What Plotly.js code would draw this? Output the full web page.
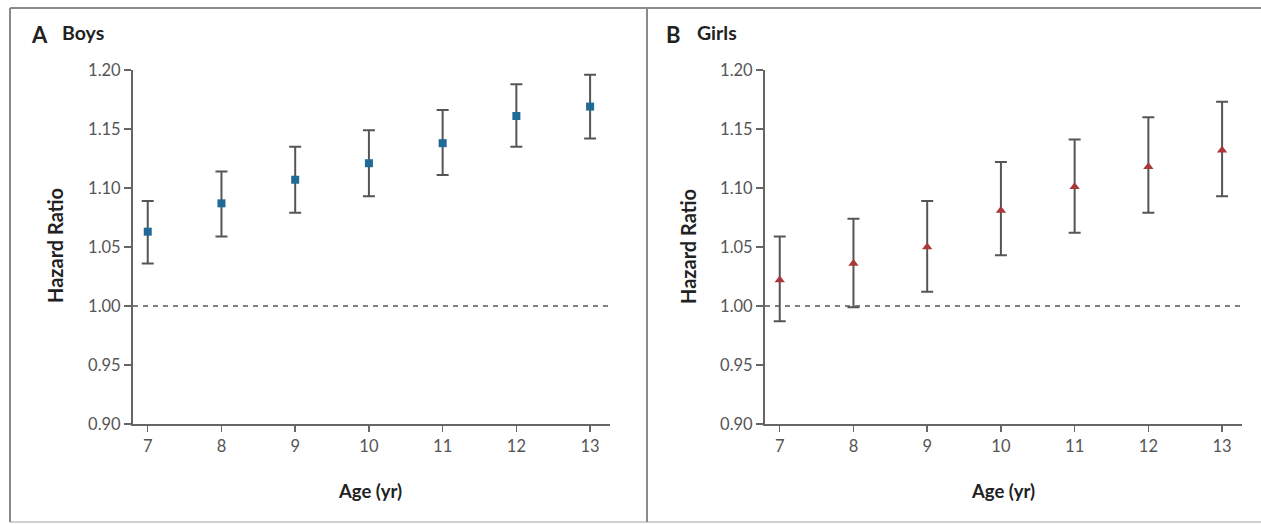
<!DOCTYPE html>
<html>
<head>
<meta charset="utf-8">
<script src="https://cdn.plot.ly/plotly-3.0.1.min.js"></script>
<style>
  html, body { margin: 0; padding: 0; background: #fff; }
  #chart { width: 1261px; height: 524px; }
</style>
</head>
<body>
<div id="chart"></div>
<script>
// Data
const ages = [7, 8, 9, 10, 11, 12, 13];
const boysHR    = [1.063, 1.087, 1.107, 1.121, 1.138, 1.161, 1.169];
const boysUpper = [1.089, 1.114, 1.135, 1.149, 1.166, 1.188, 1.196];
const boysLower = [1.036, 1.059, 1.079, 1.093, 1.111, 1.135, 1.142];
const girlsHR    = [1.022, 1.036, 1.050, 1.081, 1.101, 1.118, 1.132];
const girlsUpper = [1.059, 1.074, 1.089, 1.122, 1.141, 1.160, 1.173];
const girlsLower = [0.987, 0.999, 1.012, 1.043, 1.062, 1.079, 1.093];
const yTickVals = [0.90, 0.95, 1.00, 1.05, 1.10, 1.15, 1.20];
const yTickText = ['0.90', '0.95', '1.00', '1.05', '1.10', '1.15', '1.20'];
const panelLetters = ['A', 'B'];
const panelNames = ['Boys', 'Girls'];
const xTitle = 'Age (yr)';
const yTitle = 'Hazard Ratio';

const W = 1261, H = 524;
const px = v => v / W;
const py = v => 1 - v / H;

const errColor = '#555555';
const FONT = 'Lato, "Open Sans", sans-serif';

function diff(a, b) { return a.map((v, i) => +(v - b[i]).toFixed(4)); }

const traces = [
  {
    x: ages, y: boysHR, type: 'scatter', mode: 'markers',
    xaxis: 'x', yaxis: 'y',
    marker: { symbol: 'square', size: 8, color: '#1f6a96' },
    error_y: { type: 'data', symmetric: false,
      array: diff(boysUpper, boysHR), arrayminus: diff(boysHR, boysLower),
      color: errColor, thickness: 2, width: 6 },
    showlegend: false, hoverinfo: 'skip'
  },
  {
    x: ages, y: girlsHR, type: 'scatter', mode: 'markers',
    xaxis: 'x2', yaxis: 'y2',
    marker: { symbol: 'triangle-up', size: 9, color: '#a8383a' },
    error_y: { type: 'data', symmetric: false,
      array: diff(girlsUpper, girlsHR), arrayminus: diff(girlsHR, girlsLower),
      color: errColor, thickness: 2, width: 6 },
    showlegend: false, hoverinfo: 'skip'
  }
];

function xAxis(domain, anchor) {
  return {
    domain: domain, anchor: anchor, range: [6.8, 13.27],
    tickvals: ages, ticktext: ages.map(String),
    ticks: 'outside', ticklen: 6, tickwidth: 1.5, tickcolor: '#666',
    showline: true, linecolor: '#666', linewidth: 2,
    showgrid: false, zeroline: false,
    tickfont: { family: FONT, size: 16.5, color: '#555' },
    fixedrange: true
  };
}
function yAxis(anchor) {
  return {
    domain: [py(424), py(70)], anchor: anchor, range: [0.90, 1.20],
    tickvals: yTickVals, ticktext: yTickText,
    ticks: 'outside', ticklen: 7, tickwidth: 1.5, tickcolor: '#666',
    showline: true, linecolor: '#666', linewidth: 2,
    showgrid: false, zeroline: false,
    tickfont: { family: FONT, size: 16.5, color: '#555' },
    fixedrange: true
  };
}

const annFont = (size) => ({ family: FONT, size: size, color: '#222' });
const annotations = [
  { text: '<b>' + panelLetters[0] + '</b>', x: px(29), y: py(34), xref: 'paper', yref: 'paper', xanchor: 'left', yanchor: 'middle', showarrow: false, font: annFont(22) },
  { text: '<b>' + panelNames[0] + '</b>', x: px(60), y: py(33), xref: 'paper', yref: 'paper', xanchor: 'left', yanchor: 'middle', showarrow: false, font: annFont(19.5) },
  { text: '<b>' + panelLetters[1] + '</b>', x: px(664), y: py(34), xref: 'paper', yref: 'paper', xanchor: 'left', yanchor: 'middle', showarrow: false, font: annFont(22) },
  { text: '<b>' + panelNames[1] + '</b>', x: px(695), y: py(33), xref: 'paper', yref: 'paper', xanchor: 'left', yanchor: 'middle', showarrow: false, font: annFont(19.5) },
  { text: '<b>' + yTitle + '</b>', x: px(55), y: py(246), xref: 'paper', yref: 'paper', xanchor: 'center', yanchor: 'middle', textangle: -90, showarrow: false, font: annFont(20) },
  { text: '<b>' + yTitle + '</b>', x: px(688), y: py(246), xref: 'paper', yref: 'paper', xanchor: 'center', yanchor: 'middle', textangle: -90, showarrow: false, font: annFont(20) },
  { text: '<b>' + xTitle + '</b>', x: px(370), y: py(491), xref: 'paper', yref: 'paper', xanchor: 'center', yanchor: 'middle', showarrow: false, font: annFont(18.5) },
  { text: '<b>' + xTitle + '</b>', x: px(1003), y: py(491), xref: 'paper', yref: 'paper', xanchor: 'center', yanchor: 'middle', showarrow: false, font: annFont(18.5) }
];

const frameColor = '#8a8a8a';
const shapes = [
  { type: 'line', xref: 'x domain', yref: 'y', x0: 0, x1: 1, y0: 1, y1: 1, line: { color: '#555', width: 1.3, dash: '5px,5px' }, layer: 'below' },
  { type: 'line', xref: 'x2 domain', yref: 'y2', x0: 0, x1: 1, y0: 1, y1: 1, line: { color: '#555', width: 1.3, dash: '5px,5px' }, layer: 'below' },
  // outer frame and divider
  { type: 'line', xref: 'paper', yref: 'paper', x0: px(10), x1: 1, y0: py(8), y1: py(8), line: { color: frameColor, width: 2 } },
  { type: 'line', xref: 'paper', yref: 'paper', x0: px(10), x1: 1, y0: py(522), y1: py(522), line: { color: '#cfcfcf', width: 2 } },
  { type: 'line', xref: 'paper', yref: 'paper', x0: px(10), x1: px(10), y0: py(8), y1: py(522), line: { color: frameColor, width: 2 } },
  { type: 'line', xref: 'paper', yref: 'paper', x0: px(647), x1: px(647), y0: py(8), y1: py(522), line: { color: frameColor, width: 2 } }
];

const layout = {
  width: W, height: H,
  margin: { l: 0, r: 0, t: 0, b: 0 },
  paper_bgcolor: '#ffffff', plot_bgcolor: 'rgba(0,0,0,0)',
  showlegend: false,
  xaxis: xAxis([px(133), px(610)], 'y'),
  yaxis: yAxis('x'),
  xaxis2: xAxis([px(765), px(1242)], 'y2'),
  yaxis2: yAxis('x2'),
  annotations: annotations,
  shapes: shapes,
  font: { family: FONT }
};

Plotly.newPlot('chart', traces, layout, { displayModeBar: false, staticPlot: true });
</script>
</body>
</html>
